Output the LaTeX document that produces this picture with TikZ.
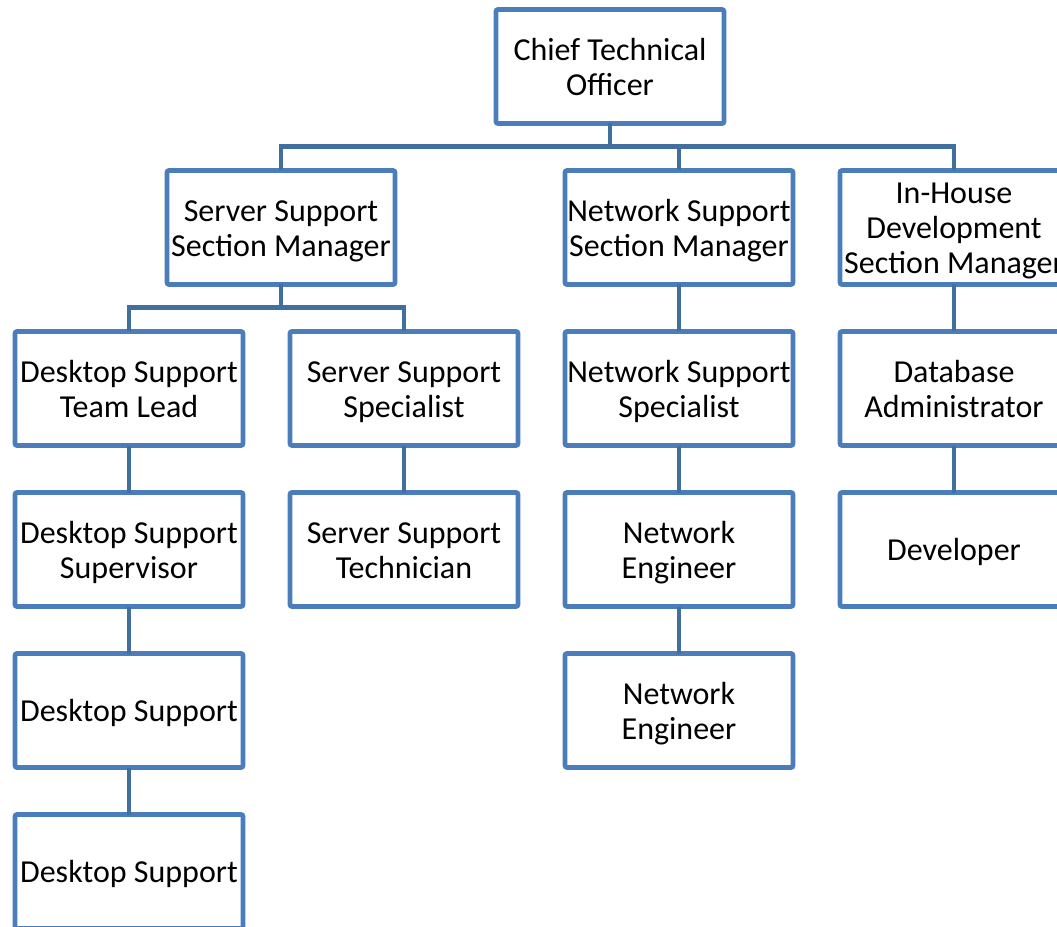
\documentclass[tikz,border=0pt]{standalone}
\usepackage{fontspec}
\setmainfont{Carlito}
\usepackage{xcolor}
\usepackage{tikz}
\usetikzlibrary{positioning}
\definecolor{boxblue}{HTML}{4A7DBA}
\definecolor{linkblue}{HTML}{41709F}
\newcommand{\tstr}{\rule{0pt}{23.35pt}}
\newcommand{\bstr}{\rule[-6.5pt]{0pt}{6.5pt}}
\tikzstyle{post} = [rectangle, rounded corners=1.5pt, minimum width=171pt, minimum height=85.5pt, inner sep=0pt, outer sep=0pt, align=center, text centered, draw=boxblue, line width=3.5pt, font=\fontsize{24}{26.25}\selectfont]
\tikzstyle{link} = [draw=linkblue, line width=3.4pt]

\begin{document}
\begin{tikzpicture}[x=0.75pt, y=-0.75pt, node distance=35.25pt]
		\useasboundingbox (0,0) rectangle (1057,927);
		\clip (0,0) rectangle (1057,927);
		\node (CTO)[post] at (610,66.5) {\tstr Chief Technical\\Officer\bstr};
		\node (Server Manager)[post] at (281,227.5) {\tstr Server Support\\Section Manager\bstr};
		\node (Team Lead)[post] at (129,388.5) {\tstr Desktop Support\\Team Lead\bstr};
		\node (Server Specialist)[post, right = of Team Lead]{\tstr Server Support\\Specialist\bstr};
		\node (Network Specialist)[post, right = of Server Specialist]{\tstr Network Support\\Specialist\bstr};
		\node (Database Admin)[post, right = of Network Specialist]{\tstr Database\\Administrator\bstr};
		\node (Network Manager)[post, above = of Network Specialist]{\tstr Network Support\\Section Manager\bstr};
		\node (InHouse Manager)[post, above = of Database Admin]{\tstr In-House\\Development\\Section Manager\bstr};
		\node (Supervisor)[post, below = of Team Lead]{\tstr Desktop Support\\Supervisor\bstr};
		\node (Desktop One)[post, below = of Supervisor]{\tstr Desktop Support\bstr};
		\node (Desktop Two)[post, below = of Desktop One]{\tstr Desktop Support\bstr};
		\node (Server Technician)[post, below = of Server Specialist]{\tstr Server Support\\Technician\bstr};
		\node (Engineer One)[post, below = of Network Specialist]{\tstr Network\\Engineer\bstr};
		\node (Engineer Two)[post, below = of Engineer One]{\tstr Network\\Engineer\bstr};
		\node (Developer)[post, below = of Database Admin]{\tstr Developer\bstr};
		\coordinate (CTO bus) at ([yshift=-17.25pt]CTO.south);
		\coordinate (Server bus) at ([yshift=-17.25pt]Server Manager.south);
		\draw [link] (CTO.south) -- (CTO bus);
		\draw [link] (CTO bus) -| (Server Manager.north);
		\draw [link] (CTO bus) -| (Network Manager.north);
		\draw [link] (CTO bus) -| (InHouse Manager.north);
		\draw [link] (Server Manager.south) -- (Server bus);
		\draw [link] (Server bus) -| (Team Lead.north);
		\draw [link] (Server bus) -| (Server Specialist.north);
		\draw [link] (Team Lead) -- (Supervisor);
		\draw [link] (Supervisor) -- (Desktop One);
		\draw [link] (Desktop One) -- (Desktop Two);
		\draw [link] (Server Specialist) -- (Server Technician);
		\draw [link] (Network Manager) -- (Network Specialist);
		\draw [link] (Network Specialist) -- (Engineer One);
		\draw [link] (Engineer One) -- (Engineer Two);
		\draw [link] (InHouse Manager) -- (Database Admin);
		\draw [link] (Database Admin) -- (Developer);
	\end{tikzpicture}
\end{document}
